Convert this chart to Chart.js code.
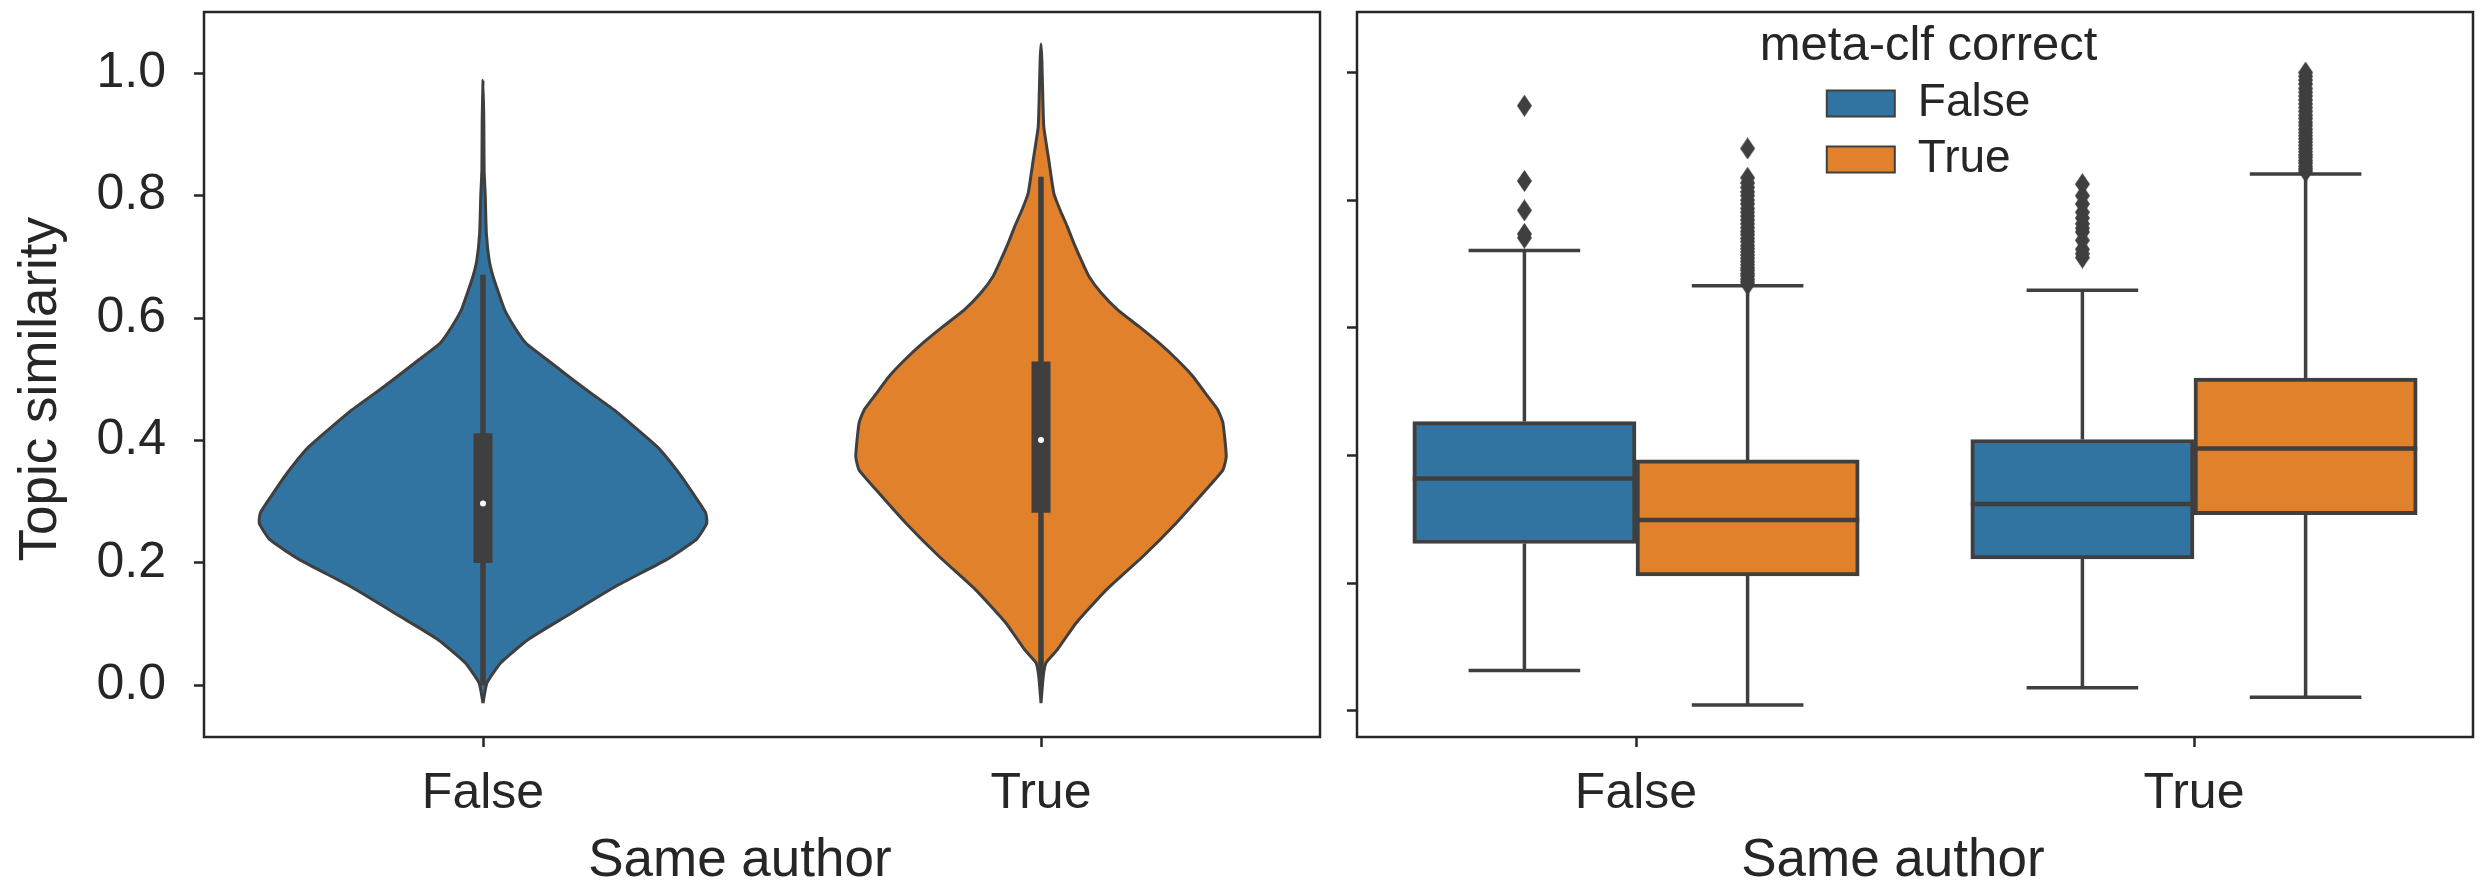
<!DOCTYPE html>
<html>
<head>
<meta charset="utf-8">
<title>Topic similarity by same author</title>
<script src="https://cdn.jsdelivr.net/npm/chart.js@4.4.1/dist/chart.umd.min.js"></script>
<style>
  html, body { margin: 0; padding: 0; background: #ffffff; }
  #wrap { position: relative; width: 2487px; height: 888px; overflow: hidden; }
  canvas { position: absolute; top: 0; display: block; }
  #violin { left: 0; }
  #boxes { left: 1340px; }
</style>
</head>
<body>
<div id="wrap">
  <canvas id="violin" width="1340" height="888"></canvas>
  <canvas id="boxes" width="1147" height="888"></canvas>
</div>
<script>
// ---------- categories and ticks ----------
const sameAuthor = ['False', 'True'];
const metaClfCorrect = ['False', 'True'];
const yTickValues = [0, 0.2, 0.4, 0.6, 0.8, 1.0];
const yTickLabels = ['0.0', '0.2', '0.4', '0.6', '0.8', '1.0'];

// ---------- violin outlines: similarity level -> half width of the density (category units) ----------
const violinFalseLevels = [-0.029, 0.004, 0.037, 0.075, 0.113, 0.162, 0.205, 0.238, 0.265, 0.282, 0.314, 0.347, 0.390, 0.450, 0.483, 0.505, 0.532, 0.559, 0.586, 0.613, 0.641, 0.668, 0.695, 0.739, 0.800, 0.842, 0.920, 0.988];
const violinFalseHalf   = [0, 0.007, 0.032, 0.081, 0.149, 0.238, 0.328, 0.382, 0.401, 0.399, 0.376, 0.351, 0.312, 0.235, 0.185, 0.153, 0.115, 0.077, 0.056, 0.039, 0.028, 0.018, 0.011, 0.006, 0.004, 0.002, 0.0015, 0];
const violinTrueLevels  = [-0.029, 0.015, 0.037, 0.058, 0.102, 0.156, 0.211, 0.265, 0.320, 0.352, 0.374, 0.429, 0.450, 0.472, 0.505, 0.532, 0.559, 0.586, 0.613, 0.641, 0.668, 0.695, 0.722, 0.750, 0.777, 0.804, 0.858, 0.913, 0.970, 1.022, 1.048];
const violinTrueHalf    = [0, 0.004, 0.009, 0.029, 0.063, 0.117, 0.183, 0.242, 0.296, 0.326, 0.332, 0.326, 0.317, 0.299, 0.272, 0.244, 0.212, 0.176, 0.138, 0.108, 0.086, 0.072, 0.059, 0.047, 0.034, 0.023, 0.014, 0.005, 0.003, 0.0015, 0];

// inner box of each violin (one entry per same-author group)
const violinWhiskerLo = [0.000, 0.000];
const violinQ1        = [0.200, 0.282];
const violinMedian    = [0.297, 0.401];
const violinQ3        = [0.412, 0.529];
const violinWhiskerHi = [0.671, 0.831];

// ---------- box plots split by meta-clf correct (one entry per same-author group) ----------
const boxLoClfFalse  = [0.063, 0.036];
const boxQ1ClfFalse  = [0.262, 0.238];
const boxMedClfFalse = [0.364, 0.324];
const boxQ3ClfFalse  = [0.453, 0.425];
const boxHiClfFalse  = [0.721, 0.659];
const fliersClfFalse = [
  [0.741, 0.747, 0.784, 0.830, 0.948],
  [0.710, 0.716, 0.723, 0.737, 0.750, 0.756, 0.763, 0.772, 0.781, 0.794, 0.807, 0.825]
];

const boxLoClfTrue  = [0.009, 0.021];
const boxQ1ClfTrue  = [0.211, 0.307];
const boxMedClfTrue = [0.299, 0.411];
const boxQ3ClfTrue  = [0.393, 0.521];
const boxHiClfTrue  = [0.666, 0.841];
const fliersClfTrue = [
  [0.668, 0.672, 0.676, 0.681, 0.685, 0.690, 0.694, 0.699, 0.704, 0.709, 0.714, 0.719, 0.724, 0.729, 0.735, 0.740,
   0.746, 0.751, 0.757, 0.763, 0.769, 0.775, 0.781, 0.787, 0.794, 0.800, 0.807, 0.813, 0.820, 0.827, 0.835, 0.881],
  [0.845, 0.849, 0.853, 0.858, 0.862, 0.867, 0.871, 0.876, 0.881, 0.886, 0.891, 0.896, 0.901, 0.906, 0.911, 0.917,
   0.922, 0.928, 0.933, 0.939, 0.945, 0.951, 0.957, 0.963, 0.969, 0.975, 0.982, 0.988, 0.994, 1.000]
];

// ---------- styling ----------
const GRAY = '#3f3f3f';
const INK = '#262626';
const HUE_COLORS = ['#3274a1', '#e1812c'];
Chart.defaults.font.family = "'Liberation Sans', Arial, Helvetica, sans-serif";
Chart.defaults.color = INK;

// boxes are dodged inside each group: 0.8 of the group width shared by the hues
const DODGE = 0.8;
const BOX_W = DODGE / metaClfCorrect.length;
const hueOffset = h => (h - (metaClfCorrect.length - 1) / 2) * BOX_W;

// full frame around the plotting area
const framePlugin = {
  id: 'frame',
  afterDatasetsDraw(chart) {
    const { ctx, chartArea: a } = chart;
    ctx.save();
    ctx.strokeStyle = INK;
    ctx.lineWidth = 2.5;
    ctx.strokeRect(a.left, a.top, a.right - a.left, a.bottom - a.top);
    ctx.restore();
  }
};

// legend sits inside the plotting area, near the top middle; its title is
// wider than the entries, so the legend is drawn without its own clip box
const legendSpot = {
  id: 'legendSpot',
  beforeDraw(chart) {
    const lg = chart.legend, a = chart.chartArea;
    if (!lg) return;
    lg.left = a.left + 0.412 * (a.right - a.left);
    lg.top = a.top + 9.5;
    if (!lg.$unclipped) {
      lg.draw = function () {
        if (!this.options.display) return;
        this.ctx.save();
        this._draw();
        this.ctx.restore();
      };
      lg.$unclipped = true;
    }
  }
};

// axis titles sit slightly off the axis centre (trailing spaces nudge them)
const X_TITLE = 'Same author   ';
const Y_TITLE = 'Topic similarity  ';

function groupAxis(title) {
  return {
    type: 'linear', min: -0.5, max: 1.5, offset: false,
    afterBuildTicks: s => { s.ticks = sameAuthor.map((_, i) => ({ value: i })); },
    afterFit: s => { s.height = 151; s.paddingLeft = 0; s.paddingRight = 0; },
    ticks: {
      autoSkip: false, maxRotation: 0, minRotation: 0, padding: 17, color: INK,
      font: { size: 50 }, callback: (v, i) => sameAuthor[i]
    },
    grid: { display: true, offset: false, drawOnChartArea: false, drawTicks: true, tickLength: 10, tickWidth: 2.5, tickColor: INK },
    border: { display: false },
    title: { display: true, text: title, color: INK, font: { size: 53, lineHeight: 1 }, padding: { top: 0, bottom: 0 } }
  };
}

function similarityAxis(min, max, width, showLabels, title) {
  return {
    type: 'linear', min, max, beginAtZero: false,
    afterBuildTicks: s => { s.ticks = yTickValues.map(v => ({ value: v })); },
    afterFit: s => { s.width = width; s.paddingTop = 0; s.paddingBottom = 0; },
    ticks: { display: showLabels, padding: 28, color: INK, font: { size: 50 }, callback: (v, i) => yTickLabels[i] },
    grid: { display: true, drawOnChartArea: false, drawTicks: true, tickLength: 10, tickWidth: 2.5, tickColor: INK },
    border: { display: false },
    title: title
      ? { display: true, text: title, color: INK, font: { size: 53, lineHeight: 1 }, padding: { top: 15, bottom: 0 } }
      : { display: false }
  };
}

// ---------- left panel: violins ----------
const violinProfiles = [
  { levels: violinFalseLevels, half: violinFalseHalf },
  { levels: violinTrueLevels, half: violinTrueHalf }
];
const violinDatasets = [];
violinProfiles.forEach((p, c) => {
  const right = p.levels.map((y, i) => ({ x: c + p.half[i], y }));
  const left = p.levels.map((y, i) => ({ x: c - p.half[i], y })).reverse().slice(1);
  violinDatasets.push({
    label: sameAuthor[c], data: right.concat(left),
    backgroundColor: HUE_COLORS[c], borderColor: GRAY, borderWidth: 3, borderJoinStyle: 'round',
    fill: 'shape', pointRadius: 0, tension: 0.15, order: 3
  });
  violinDatasets.push({
    data: [{ x: c, y: violinWhiskerLo[c] }, { x: c, y: violinWhiskerHi[c] }],
    borderColor: GRAY, borderWidth: 5.5, pointRadius: 0, fill: false, order: 2
  });
  violinDatasets.push({
    data: [{ x: c, y: violinQ1[c] }, { x: c, y: violinQ3[c] }],
    borderColor: GRAY, borderWidth: 19, borderCapStyle: 'butt', pointRadius: 0, fill: false, order: 1
  });
});
violinDatasets.push({
  data: sameAuthor.map((_, c) => ({ x: c, y: violinMedian[c] })),
  showLine: false, pointRadius: 3, pointBackgroundColor: '#ffffff', pointBorderWidth: 0, order: 0
});

new Chart(document.getElementById('violin'), {
  type: 'line',
  data: { datasets: violinDatasets },
  options: {
    indexAxis: 'y', responsive: false, animation: false, events: [], devicePixelRatio: 1,
    layout: { padding: { top: 12, right: 20, bottom: 0, left: 0 } },
    scales: {
      x: groupAxis(X_TITLE),
      y: similarityAxis(-0.0843, 1.1001, 204, true, Y_TITLE)
    },
    plugins: { legend: { display: false }, tooltip: { enabled: false } }
  },
  plugins: [framePlugin]
});

// ---------- right panel: box plots ----------
function thinDiamond(w, h, color) {
  const cv = document.createElement('canvas');
  cv.width = w; cv.height = h;
  const g = cv.getContext('2d');
  g.fillStyle = color;
  g.beginPath();
  g.moveTo(w / 2, 0); g.lineTo(w, h / 2); g.lineTo(w / 2, h); g.lineTo(0, h / 2);
  g.closePath(); g.fill();
  return cv;
}
const flierMark = thinDiamond(15, 22, GRAY);

const boxStats = [
  { lo: boxLoClfFalse, q1: boxQ1ClfFalse, med: boxMedClfFalse, q3: boxQ3ClfFalse, hi: boxHiClfFalse, fliers: fliersClfFalse },
  { lo: boxLoClfTrue,  q1: boxQ1ClfTrue,  med: boxMedClfTrue,  q3: boxQ3ClfTrue,  hi: boxHiClfTrue,  fliers: fliersClfTrue }
];

const boxDatasets = [];
const whiskerPts = [], capPts = [], medianPts = [];
const flierSets = [];
boxStats.forEach((s, h) => {
  const off = hueOffset(h);
  boxDatasets.push({
    type: 'bar', label: metaClfCorrect[h],
    data: sameAuthor.map((_, c) => ({ x: c + off, y: [s.q1[c], s.q3[c]] })),
    backgroundColor: HUE_COLORS[h], borderColor: GRAY, borderWidth: 4, borderSkipped: false,
    grouped: false, barPercentage: 1, categoryPercentage: 1, order: 2
  });
  const flierPts = [];
  sameAuthor.forEach((_, c) => {
    const x = c + off;
    const capHalf = BOX_W / 4, boxHalf = BOX_W / 2;
    whiskerPts.push({ x, y: s.q3[c] }, { x, y: s.hi[c] }, { x, y: null },
                    { x, y: s.q1[c] }, { x, y: s.lo[c] }, { x, y: null });
    capPts.push({ x: x - capHalf, y: s.hi[c] }, { x: x + capHalf, y: s.hi[c] }, { x, y: null },
                { x: x - capHalf, y: s.lo[c] }, { x: x + capHalf, y: s.lo[c] }, { x, y: null });
    medianPts.push({ x: x - boxHalf, y: s.med[c] }, { x: x + boxHalf, y: s.med[c] }, { x, y: null });
    s.fliers[c].forEach(v => flierPts.push({ x, y: v }));
  });
  flierSets.push({
    type: 'line', data: flierPts, showLine: false,
    pointStyle: flierMark, pointRadius: 8, order: 0
  });
});

const lineSets = [
  { type: 'line', data: whiskerPts, borderColor: GRAY, borderWidth: 3.5, pointRadius: 0, fill: false, spanGaps: false, order: 1 },
  { type: 'line', data: capPts, borderColor: GRAY, borderWidth: 3.5, pointRadius: 0, fill: false, spanGaps: false, order: 1 },
  { type: 'line', data: medianPts, borderColor: GRAY, borderWidth: 4.5, pointRadius: 0, fill: false, spanGaps: false, order: 1 }
];

new Chart(document.getElementById('boxes'), {
  type: 'bar',
  data: { datasets: boxDatasets.concat(lineSets, flierSets) },
  options: {
    responsive: false, animation: false, events: [], devicePixelRatio: 1,
    layout: { padding: { top: 12, right: 14, bottom: 0, left: 0 } },
    scales: {
      x: groupAxis(X_TITLE),
      y: similarityAxis(-0.0412, 1.0948, 17, false, null)
    },
    plugins: {
      tooltip: { enabled: false },
      legend: {
        display: true, position: 'chartArea', align: 'start',
        title: { display: true, text: 'meta-clf correct', color: INK, font: { size: 49, lineHeight: 1 }, padding: 0 },
        labels: {
          boxWidth: 68, boxHeight: 26, padding: 10, color: INK, font: { size: 46 },
          generateLabels: chart => Chart.defaults.plugins.legend.labels.generateLabels(chart)
            .filter(it => chart.data.datasets[it.datasetIndex].type === 'bar')
            .map(it => Object.assign(it, { lineWidth: 2, strokeStyle: GRAY }))
        }
      }
    }
  },
  plugins: [framePlugin, legendSpot]
});
</script>
</body>
</html>
